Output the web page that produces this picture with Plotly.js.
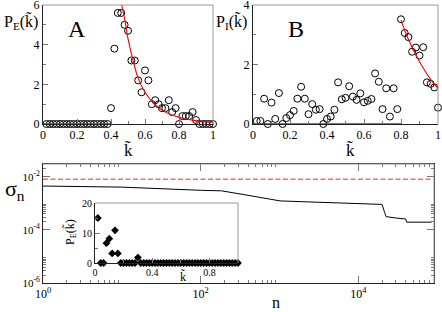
<!DOCTYPE html>
<html><head><meta charset="utf-8">
<script src="https://cdn.plot.ly/plotly-3.0.1.min.js"></script>
<style>html,body{margin:0;padding:0;background:#fff}#chart{width:442px;height:312px}</style>
</head><body><div id="chart"></div>
<script>
// k-tilde values (shared by panels A, B and inset)
const kValues = [0.02,0.04,0.06,0.08,0.10,0.12,0.14,0.16,0.18,0.20,
  0.22,0.24,0.26,0.28,0.30,0.32,0.34,0.36,0.38,0.40,
  0.42,0.44,0.46,0.48,0.50,0.52,0.54,0.56,0.58,0.60,
  0.62,0.64,0.66,0.68,0.70,0.72,0.74,0.76,0.78,0.80,
  0.82,0.84,0.86,0.88,0.90,0.92,0.94,0.96,0.98,1.00];
// Panel A: P_E
const pE = [0,0,0,0,0,0,0,0,0,0,
  0,0,0,0,0,0,0,0,0,0.8,
  3.8,5.6,5.6,5.0,4.7,3.2,3.2,2.2,1.6,2.7,
  2.2,1.0,1.2,1.0,0.8,0.8,1.2,0.6,0.8,0,
  0.4,0.4,0.4,0.6,0.2,0,0,0,0,0];
const fitAZeroK = [0, 0.4];
const fitAZeroV = [0, 0];
const fitAK = [0.463,0.48,0.50,0.53,0.56,0.60,0.65,0.70,0.75,0.80,0.85,0.90,0.95,1.00];
const fitAV = [6.0,5.3,4.3,3.2,2.3,1.6,1.05,0.7,0.48,0.34,0.24,0.17,0.12,0.09];
// Panel B: P_I
const pI = [0.1,0.1,0.85,0,0.72,0.17,1.04,0,0.2,0.3,
  0.44,0.85,1.25,0.85,0.33,0.67,0.48,0.5,0,0.17,
  0.25,0.48,1.4,0.83,0.88,1.27,0.92,0.81,1.03,0.73,
  0.78,0.84,1.7,1.42,0.5,1.2,0.25,1.2,0.5,3.52,
  3.06,2.92,2.43,2.57,2.3,2.58,1.4,1.35,1.23,0.55];
const fitBZeroK = [0, 0.8];
const fitBZeroV = [0, 0];
const fitBK = [0.80,0.82,0.84,0.86,0.88,0.90,0.92,0.94,0.96,0.98,1.00];
const fitBV = [3.5,3.15,2.85,2.58,2.33,2.1,1.88,1.68,1.5,1.34,1.2];
// Bottom panel: sigma_n vs n
const nValues = [1,10,100,184,400,795,1020,3000,10000,20000,21500,22500,30000,40000,41000,85000];
const sigmaValues = [0.00447,0.00407,0.00309,0.00295,0.0020,0.00138,0.00123,0.0011,0.00098,0.00091,0.00046,0.000316,0.00028,0.000257,0.000195,0.000195];
const nRef = [1, 89000];
const sigmaRef = [0.0081, 0.0081];
// Inset: P_E
const pEInset = [15,0,0,6.6,8.1,3.2,10.9,3.2,0,0,
  0,0,0,0,1.8,0,0,0,0,0,
  0,0,0,0,0,0,0,0,0,0,
  0,0,0,0,0,0,0,0,0,0,
  0,0,0,0,0,0,0,0,0,0];
// tick labels
const tickA = ['0','0.2','0.4','0.6','0.8','1'];
const tickValsA = [0,0.2,0.4,0.6,0.8,1];
const nTickVals = [1,100,10000];
const nTickText = ['10<sup>0</sup>','10<sup>2</sup>','10<sup>4</sup>'];
const nMinor = [2,3,4,5,6,7,8,9,200,300,400,500,600,700,800,900,20000,30000,40000,50000,60000,70000,80000,90000];
const sTickVals = [1e-6,1e-4,1e-2];
const sTickText = ['10<sup>-6</sup>','10<sup>-4</sup>','10<sup>-2</sup>'];
const sMinor = [2e-6,3e-6,4e-6,5e-6,6e-6,7e-6,8e-6,9e-6,2e-4,3e-4,4e-4,5e-4,6e-4,7e-4,8e-4,9e-4,2e-2,3e-2];
const insetTickVals = [0,0.4,0.8];
const insetTickText = ['0','0.4','0.8'];

const W = 442, H = 312;
const px = v => v / W, py = v => 1 - v / H;
const FONT = 'Liberation Serif';
const tickCol = '#777';

function linAxis(domain, range, extra) {
  return Object.assign({
    domain: domain, range: range, showline: true, linecolor: '#222', linewidth: 1,
    ticks: 'inside', ticklen: 5, tickcolor: tickCol, tickwidth: 1,
    showgrid: false, zeroline: false, ticklabeloverflow: 'allow',
    tickfont: {family: FONT, size: 12, color: '#000'}
  }, extra);
}

const traces = [
  {x: kValues, y: pE, xaxis: 'x', yaxis: 'y', mode: 'markers', cliponaxis: false,
   marker: {symbol: 'circle-open', size: 7, color: '#000', line: {width: 1}}},
  {x: fitAZeroK, y: fitAZeroV, xaxis: 'x', yaxis: 'y', mode: 'lines', cliponaxis: false,
   line: {color: '#ff0000', width: 1.5}},
  {x: fitAK, y: fitAV, xaxis: 'x', yaxis: 'y', mode: 'lines',
   line: {color: '#ff0000', width: 1.1, shape: 'spline'}},
  {x: kValues, y: pI, xaxis: 'x2', yaxis: 'y2', mode: 'markers', cliponaxis: false,
   marker: {symbol: 'circle-open', size: 7, color: '#000', line: {width: 1}}},
  {x: fitBZeroK, y: fitBZeroV, xaxis: 'x2', yaxis: 'y2', mode: 'lines', cliponaxis: false,
   line: {color: '#ff0000', width: 1.5}},
  {x: fitBK, y: fitBV, xaxis: 'x2', yaxis: 'y2', mode: 'lines',
   line: {color: '#ff0000', width: 1.1, shape: 'spline'}},
  {x: nRef, y: sigmaRef, xaxis: 'x3', yaxis: 'y3', mode: 'lines',
   line: {color: '#ff2020', width: 1, dash: '5px,2.5px'}},
  {x: nValues, y: sigmaValues, xaxis: 'x3', yaxis: 'y3', mode: 'lines',
   line: {color: '#000', width: 1}},
  {x: kValues, y: pEInset, xaxis: 'x4', yaxis: 'y4', mode: 'markers', cliponaxis: false,
   marker: {symbol: 'diamond', size: 6, color: '#000'}}
];

function frame(xr, yr) {
  return [
    {type: 'line', xref: xr + ' domain', yref: yr + ' domain', x0: 0, x1: 1, y0: 1, y1: 1,
     line: {color: '#999', width: 1}, layer: 'above'},
    {type: 'line', xref: xr + ' domain', yref: yr + ' domain', x0: 1, x1: 1, y0: 0, y1: 1,
     line: {color: '#999', width: 1}, layer: 'above'}
  ];
}

const layout = {
  width: W, height: H, margin: {l: 0, r: 0, t: 0, b: 0},
  paper_bgcolor: '#fff', plot_bgcolor: 'rgba(0,0,0,0)', showlegend: false,
  font: {family: FONT, color: '#000'},
  xaxis: linAxis([px(43), px(213)], [0, 1], {anchor: 'y', tickvals: tickValsA, ticktext: tickA,
    minor: {dtick: 0.1, tick0: 0, ticks: 'inside', ticklen: 3, tickcolor: tickCol}}),
  yaxis: linAxis([py(124), py(5)], [0, 6], {anchor: 'x', dtick: 2, tick0: 0,
    minor: {dtick: 1, tick0: 0, ticks: 'inside', ticklen: 3, tickcolor: tickCol}}),
  xaxis2: linAxis([px(253), px(438)], [0, 1], {anchor: 'y2', tickvals: tickValsA, ticktext: tickA,
    minor: {dtick: 0.1, tick0: 0, ticks: 'inside', ticklen: 3, tickcolor: tickCol}}),
  yaxis2: linAxis([py(124), py(5)], [0, 4], {anchor: 'x2', dtick: 2, tick0: 0,
    minor: {dtick: 1, tick0: 0, ticks: 'inside', ticklen: 3, tickcolor: tickCol}}),
  xaxis3: linAxis([px(43), px(434)], [0, 4.96], {anchor: 'y3', type: 'log', tickmode: 'array',
    tickvals: nTickVals, ticktext: nTickText, ticklen: 7, mirror: 'ticks',
    minor: {tickmode: 'array', tickvals: nMinor, ticks: 'inside', ticklen: 3, tickcolor: tickCol}}),
  yaxis3: linAxis([py(283), py(164)], [-6, -1.52], {anchor: 'x3', type: 'log', tickmode: 'array',
    tickvals: sTickVals, ticktext: sTickText, ticklen: 7, mirror: 'ticks',
    tickfont: {family: FONT, size: 11, color: '#000'},
    minor: {tickmode: 'array', tickvals: sMinor, ticks: 'inside', ticklen: 3, tickcolor: tickCol}}),
  xaxis4: linAxis([px(95), px(238)], [0, 1], {anchor: 'y4', tickvals: insetTickVals, ticktext: insetTickText,
    tickfont: {family: FONT, size: 10, color: '#000'}, ticklen: 5,
    minor: {dtick: 0.2, tick0: 0, ticks: 'inside', ticklen: 3, tickcolor: tickCol}}),
  yaxis4: linAxis([py(263), py(203)], [0, 20], {anchor: 'x4', dtick: 10, tick0: 0,
    tickfont: {family: FONT, size: 10, color: '#000'}, ticklen: 5,
    minor: {dtick: 5, tick0: 0, ticks: 'inside', ticklen: 3, tickcolor: tickCol}}),
  shapes: [].concat(frame('x', 'y'), frame('x2', 'y2'), frame('x3', 'y3'), frame('x4', 'y4')),
  annotations: [
    {text: 'P<sub>E</sub>(k\u0303)', x: px(2), y: py(22), xref: 'paper', yref: 'paper',
     xanchor: 'left', yanchor: 'middle', showarrow: false, font: {family: FONT, size: 16}},
    {text: 'A', x: px(77), y: py(29), xref: 'paper', yref: 'paper',
     xanchor: 'center', yanchor: 'middle', showarrow: false, font: {family: FONT, size: 24}},
    {text: 'P<sub>I</sub>(k\u0303)', x: px(214), y: py(22), xref: 'paper', yref: 'paper',
     xanchor: 'left', yanchor: 'middle', showarrow: false, font: {family: FONT, size: 16}},
    {text: 'B', x: px(296), y: py(29), xref: 'paper', yref: 'paper',
     xanchor: 'center', yanchor: 'middle', showarrow: false, font: {family: FONT, size: 24}},
    {text: 'k\u0303', x: px(128), y: py(150), xref: 'paper', yref: 'paper',
     xanchor: 'center', yanchor: 'middle', showarrow: false, font: {family: FONT, size: 17}},
    {text: 'k\u0303', x: px(350), y: py(150), xref: 'paper', yref: 'paper',
     xanchor: 'center', yanchor: 'middle', showarrow: false, font: {family: FONT, size: 17}},
    {text: '\u03c3<sub>n</sub>', x: px(3), y: py(190), xref: 'paper', yref: 'paper',
     xanchor: 'left', yanchor: 'middle', showarrow: false, font: {family: FONT, size: 22}},
    {text: 'n', x: px(276), y: py(302), xref: 'paper', yref: 'paper',
     xanchor: 'center', yanchor: 'middle', showarrow: false, font: {family: FONT, size: 16}},
    {text: 'P<sub>E</sub>(k\u0303)', x: px(70), y: py(232), xref: 'paper', yref: 'paper', textangle: -90,
     xanchor: 'center', yanchor: 'middle', showarrow: false, font: {family: FONT, size: 12}},
    {text: 'k\u0303', x: px(183), y: py(276), xref: 'paper', yref: 'paper',
     xanchor: 'center', yanchor: 'middle', showarrow: false, font: {family: FONT, size: 12}}
  ]
};

Plotly.newPlot('chart', traces, layout, {displayModeBar: false, staticPlot: true});
</script>
</body></html>
